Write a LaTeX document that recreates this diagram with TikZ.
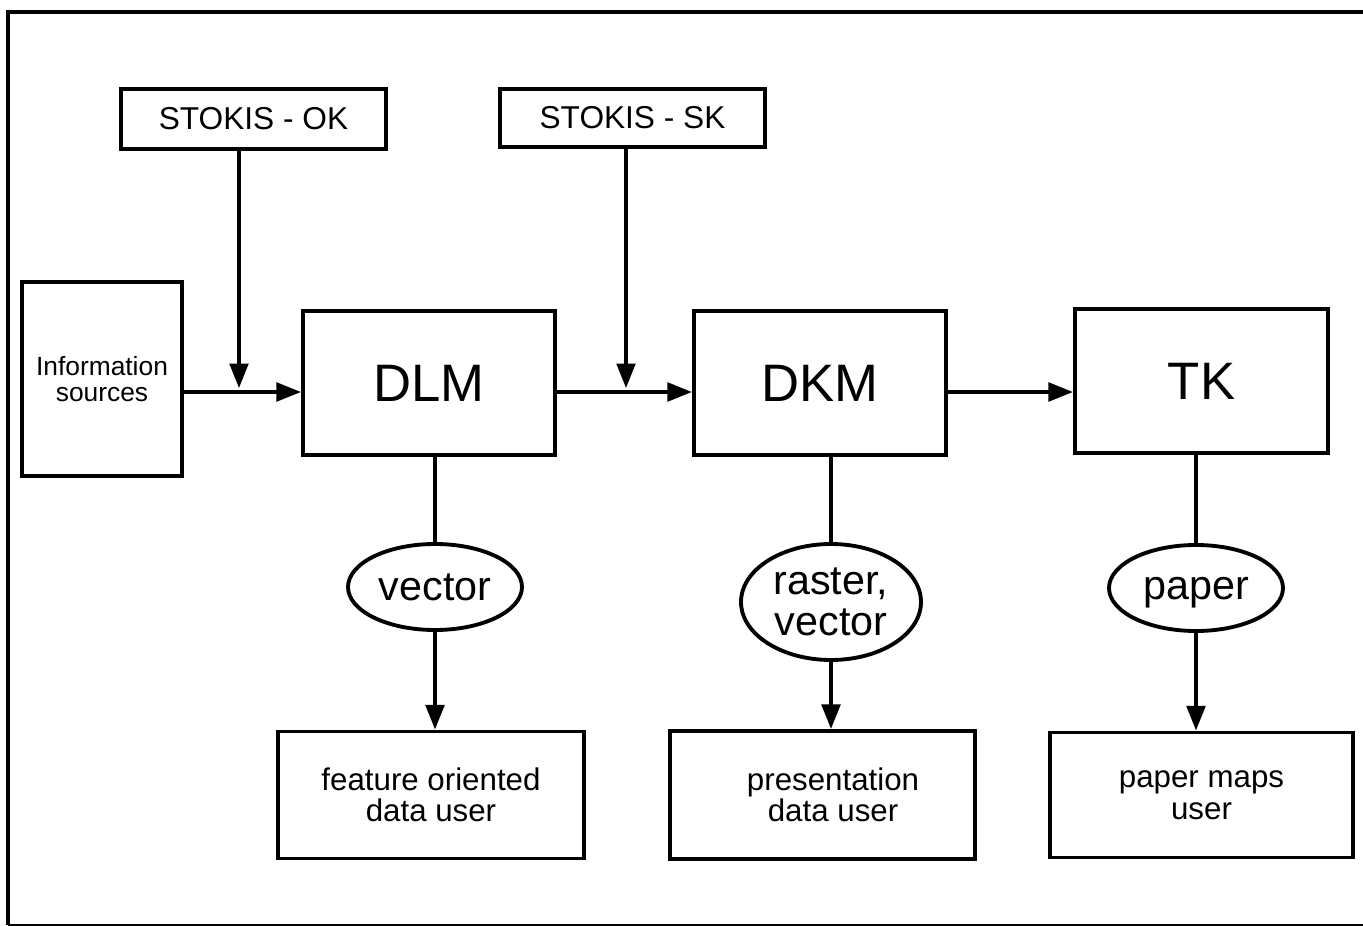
\documentclass[tikz,border=0pt]{standalone}
\usepackage{fontspec}
\setmainfont{Liberation Sans}
\usetikzlibrary{arrows.meta, shapes.geometric}

\tikzset{
    box/.style={draw=borderColour, line width=2.2pt, inner sep=0pt, align=center},
    oval/.style={ellipse, draw=borderColour, line width=2.2pt, inner sep=0pt, align=center},
    flow/.style={draw=borderColour, line width=2.2pt, -{Triangle[length=14pt,width=10.5pt]}},
    link/.style={draw=borderColour, line width=2.2pt}
}

\begin{document}
\begin{tikzpicture}[x=0.02cm, y=-0.02cm]

    % Define the pixel unit and colours
    \def\px{0.02cm}
    \definecolor{borderColour}{HTML}{000000}

    % Fix the page size
    \useasboundingbox (0,0) rectangle (1363,926);

    % Draw the outer frame
    \draw[borderColour, line width=2.2pt] (1363,12) -- (8,12) -- (8,925);
    \draw[borderColour, line width=1.2pt] (8,925) -- (1363,925);

    % Define the height of the main flow
    \coordinate (flowY) at (0,392);

    % Draw the control boxes
    \node[box, minimum width=265*\px, minimum height=60*\px, font=\fontsize{18}{18}\selectfont] (ok) at (253.5,119) {STOKIS - OK};
    \node[box, minimum width=265*\px, minimum height=58*\px, font=\fontsize{18}{18}\selectfont] (sk) at (632.5,118) {STOKIS - SK};

    % Draw the main boxes
    \node[box, minimum width=160*\px, minimum height=194*\px, font=\fontsize{15}{15}\selectfont] (info) at (102,379) {Information\\sources};
    \node[box, minimum width=252*\px, minimum height=144*\px, font=\fontsize{30}{30}\selectfont] (dlm) at (429,383) {DLM};
    \node[box, minimum width=252*\px, minimum height=144*\px, font=\fontsize{30}{30}\selectfont] (dkm) at (820,383) {DKM};
    \node[box, minimum width=253*\px, minimum height=144*\px, font=\fontsize{30}{30}\selectfont] (tk) at (1201.5,381) {TK};

    % Draw the media ellipses
    \node[oval, minimum width=174*\px, minimum height=86*\px, font=\fontsize{23.5}{23}\selectfont] (vec) at (435,587) {vector};
    \node[oval, minimum width=180*\px, minimum height=116*\px, font=\fontsize{23.5}{23}\selectfont] (ras) at (831,602) {raster,\\vector};
    \node[oval, minimum width=174*\px, minimum height=86*\px, text depth=0pt, font=\fontsize{23.5}{23}\selectfont] (pap) at (1196,588) {paper};

    % Draw the user boxes
    \node[box, minimum width=306*\px, minimum height=127*\px, font=\fontsize{17.8}{18}\selectfont] (feature) at (431,795) {feature oriented\\data user};
    \node[box, minimum width=305*\px, minimum height=128*\px, font=\fontsize{17.8}{18}\selectfont] (present) at (822.5,795) {\hspace{12pt}presentation\\\hspace{12pt}data user};
    \node[box, minimum width=303*\px, minimum height=125*\px, font=\fontsize{17.8}{18}\selectfont] (papmaps) at (1201.5,795) {paper maps\\user};

    % Draw the main flow
    \draw[flow] (info.east |- flowY) -- (dlm.west |- flowY);
    \draw[flow] (dlm.east |- flowY) -- (dkm.west |- flowY);
    \draw[flow] (dkm.east |- flowY) -- (tk.west |- flowY);

    % Draw the control inputs
    \coordinate (okDrop) at (239,392);
    \coordinate (skDrop) at (626,392);
    \draw[flow, shorten >=2.2pt] (ok.south -| okDrop) -- (okDrop);
    \draw[flow, shorten >=2.2pt] (sk.south -| skDrop) -- (skDrop);

    % Draw the outputs
    \draw[link] (dlm.south -| vec) -- (vec.north);
    \draw[flow] (vec.south) -- (feature.north -| vec);
    \draw[link] (dkm.south -| ras) -- (ras.north);
    \draw[flow] (ras.south) -- (present.north -| ras);
    \draw[link] (tk.south -| pap) -- (pap.north);
    \draw[flow] (pap.south) -- (papmaps.north -| pap);

\end{tikzpicture}
\end{document}
